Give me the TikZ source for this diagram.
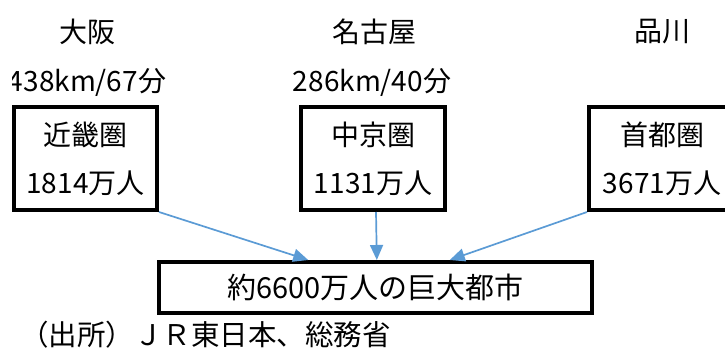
\documentclass[tikz,border=0pt]{standalone}
\usepackage{fontspec}
\setmainfont{Noto Sans CJK JP}
\usetikzlibrary{arrows.meta,calc}
\definecolor{arrowblue}{HTML}{5B9BD5}
\begin{document}
\begin{tikzpicture}[x=1pt,y=-1pt,
  lbl/.style={font=\fontsize{28}{34}\selectfont, inner sep=0pt},
  region/.style={draw=black, line width=4pt, minimum height=103pt, align=center, inner sep=0pt, font=\fontsize{28}{48}\selectfont},
  conn/.style={draw=arrowblue, line width=1.7pt, -{Triangle[length=15pt,width=13pt]}}]
\useasboundingbox (0,0) rectangle (725,351);
% city names
\node[lbl] (osaka) at (87,32) {大阪};
\node[lbl] (nagoya) at (374,32) {名古屋};
\node[lbl] (shinagawa) at (662,32) {品川};
% distances
\begin{scope}
\clip (12,55) rectangle (260,105);
\node[lbl] (dosaka) at (87,82) {438km/67分};
\end{scope}
\node[lbl] (dnagoya) at (372,82) {286km/40分};
% regional boxes
\node[region, minimum width=143pt] (kinki) at (85.5,158.5) {近畿圏\\1814万人};
\node[region, minimum width=144pt] (chukyo) at (373,158.5) {中京圏\\1131万人};
\node[region, minimum width=146pt] (shuto) at (662,158.5) {首都圏\\3671万人};
% total box
\node[draw=black, line width=4pt, minimum width=433pt, minimum height=51pt, inner sep=0pt, font=\fontsize{29}{34}\selectfont] (total) at (375.5,287.5) {約6600万人の巨大都市};
% arrows
\draw[conn] (kinki.south east) -- ($(total.north west)!0.346!(total.north east)$);
\draw[conn] ([xshift=3pt]chukyo.south) -- ($(total.north west)!0.503!(total.north east)$);
\draw[conn] (shuto.south west) -- ($(total.north west)!0.67!(total.north east)$);
% source
\node[inner sep=0pt, font=\fontsize{28.5}{34}\selectfont, anchor=west] (source) at (20,335) {（出所）ＪＲ東日本、総務省};
\end{tikzpicture}
\end{document}
